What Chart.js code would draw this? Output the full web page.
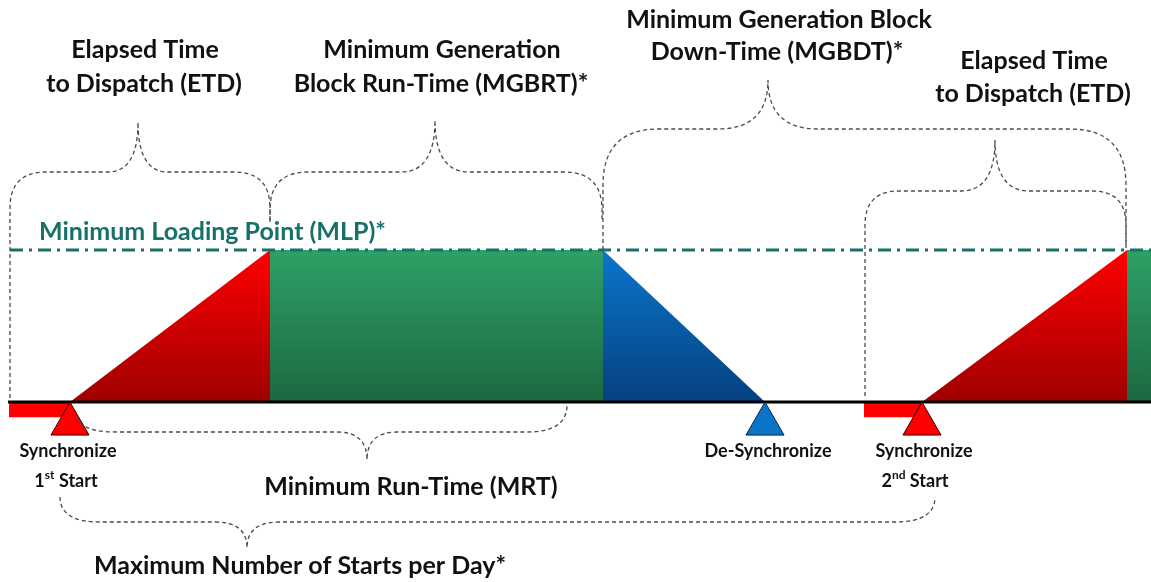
<!DOCTYPE html>
<html>
<head>
<meta charset="utf-8">
<script src="https://cdn.jsdelivr.net/npm/chart.js@4.4.1/dist/chart.umd.min.js"></script>
<style>
html, body { margin: 0; padding: 0; background: #fff; }
#wrap { width: 1151px; height: 582px; position: relative; }
</style>
</head>
<body>
<div id="wrap"><canvas id="myChart"></canvas></div>
<script>
// unit output profile over the day: 0 = offline, 1 = minimum loading point
const phaseNames = ['ramp', 'run', 'down', 'off', 'ramp', 'run'];
const phaseStart = [70, 270, 603, 765, 922, 1127];
const phaseEnd   = [270, 603, 765, 922, 1127, 1151];
const levelStart = [0, 1, 1, 0, 0, 1];
const levelEnd   = [1, 1, 0, 0, 1, 1];

const dispatchTimes = [9, 864];    // dispatch instruction given
const syncTimes = [70, 922];       // 1st / 2nd start
const desyncTimes = [765];
const mlpTimes = [270, 1127];      // MLP reached
const mrtEnd = 567;
const timeRange = [0, 1151];
const mlpLevel = 1;

const FONT = 'Lato, "Open Sans", sans-serif';

function grad(chart, top, bottom) {
  const ys = chart.scales.y;
  if (!chart.chartArea || !ys) return top;
  const y0 = ys.getPixelForValue(1), y1 = ys.getPixelForValue(0);
  if (!isFinite(y0) || !isFinite(y1)) return top;
  const g = chart.ctx.createLinearGradient(0, y0, 0, y1);
  g.addColorStop(0, top);
  g.addColorStop(1, bottom);
  return g;
}
const phaseFill = {
  ramp: c => grad(c.chart, '#ff0000', '#9e0000'),
  run: c => grad(c.chart, '#2ea066', '#1c6840'),
  down: c => grad(c.chart, '#0b76cc', '#05407f'),
  off: 'rgba(0,0,0,0)'
};

const datasets = [];
phaseNames.forEach((p, i) => {
  if (p === 'off') return;
  datasets.push({
    data: [{x: phaseStart[i], y: levelStart[i]}, {x: phaseEnd[i], y: levelEnd[i]}],
    borderWidth: 0, pointRadius: 0, fill: 'origin',
    backgroundColor: phaseFill[p], order: p === 'run' ? 6 : 5
  });
});
// red bars: dispatch -> synchronise
dispatchTimes.forEach((t, i) => {
  datasets.push({
    data: [{x: t, y: -0.1}, {x: syncTimes[i], y: -0.1}],
    borderWidth: 0, pointRadius: 0, fill: {value: 0},
    backgroundColor: '#ff0000', order: 4
  });
});
// baseline
datasets.push({
  data: [{x: 8, y: 0}, {x: timeRange[1], y: 0}],
  borderColor: '#000', borderWidth: 3, pointRadius: 0, fill: false, order: 3
});
// MLP line
datasets.push({
  data: [{x: 10, y: mlpLevel}, {x: timeRange[1], y: mlpLevel}],
  borderColor: '#17706a', borderWidth: 3, borderDash: [13, 6, 3, 6],
  pointRadius: 0, fill: false, order: 2
});
// sync / de-sync markers
datasets.push({
  data: syncTimes.map(t => ({x: t, y: -0.145})),
  showLine: false, pointStyle: 'triangle', pointRadius: 22,
  pointBackgroundColor: '#ff0000', pointBorderColor: '#3a0000', pointBorderWidth: 1, order: 1
});
datasets.push({
  data: desyncTimes.map(t => ({x: t, y: -0.145})),
  showLine: false, pointStyle: 'triangle', pointRadius: 22,
  pointBackgroundColor: '#0a74c8', pointBorderColor: '#0a2540', pointBorderWidth: 1, order: 1
});

function brace(ctx, x1, y1, x2, y2, tx, bar, tip, r, k) {
  const dir = tip < bar ? -1 : 1;
  ctx.beginPath();
  ctx.moveTo(x1, y1);
  const r1 = Math.min(r, Math.abs(y1 - bar));
  ctx.lineTo(x1, bar - dir * r1);
  ctx.quadraticCurveTo(x1, bar, x1 + r, bar);
  ctx.lineTo(tx - k, bar);
  ctx.quadraticCurveTo(tx, bar, tx, tip);
  ctx.quadraticCurveTo(tx, bar, tx + k, bar);
  ctx.lineTo(x2 - r, bar);
  const r2 = Math.min(r, Math.abs(y2 - bar));
  ctx.quadraticCurveTo(x2, bar, x2, bar - dir * r2);
  ctx.lineTo(x2, y2);
  ctx.stroke();
}

function label(ctx, text, cx, cy, size, color) {
  ctx.font = 'bold ' + size + 'px ' + FONT;
  ctx.fillStyle = color || '#111';
  ctx.textAlign = 'center';
  ctx.textBaseline = 'middle';
  ctx.fillText(text, cx, cy);
}

function ordinal(ctx, num, sup, rest, cx, cy, size) {
  ctx.textBaseline = 'middle';
  ctx.textAlign = 'left';
  ctx.fillStyle = '#111';
  const big = 'bold ' + size + 'px ' + FONT, small = 'bold ' + Math.round(size * 0.65) + 'px ' + FONT;
  ctx.font = big; const w1 = ctx.measureText(num).width, w3 = ctx.measureText(rest).width;
  ctx.font = small; const w2 = ctx.measureText(sup).width;
  let x = cx - (w1 + w2 + w3) / 2;
  ctx.font = big; ctx.fillText(num, x, cy); x += w1;
  ctx.font = small; ctx.fillText(sup, x, cy - size * 0.3); x += w2;
  ctx.font = big; ctx.fillText(rest, x, cy);
}

const decor = {
  id: 'decor',
  afterDatasetsDraw(chart) {
    const ctx = chart.ctx, X = v => chart.scales.x.getPixelForValue(v);
    ctx.save();
    ctx.strokeStyle = '#4a4a4a';
    ctx.lineWidth = 1.3;
    ctx.setLineDash([4, 3]);
    brace(ctx, X(dispatchTimes[0]) + 1, 398, X(mlpTimes[0]), 222, 138, 172, 122, 36, 30);
    brace(ctx, X(mlpTimes[0]), 222, X(phaseEnd[1]) - 1, 222, 435, 172, 120, 38, 34);
    brace(ctx, X(phaseEnd[1]), 250, X(mlpTimes[1]) - 1, 250, 768, 129, 80, 56, 50);
    brace(ctx, X(dispatchTimes[1]) + 1, 396, X(mlpTimes[1]) - 1, 246, 995, 191, 140, 34, 34);
    brace(ctx, X(syncTimes[0]) + 8, 416, X(mrtEnd), 405, 367, 432, 460, 40, 30);
    brace(ctx, X(syncTimes[0]) - 10, 497, X(syncTimes[1]) + 13, 497, 247, 522, 548, 40, 32);
    ctx.restore();
  },
  afterDraw(chart) {
    const ctx = chart.ctx;
    ctx.save();
    label(ctx, 'Elapsed Time', 145, 50, 25);
    label(ctx, 'to Dispatch (ETD)', 144, 84, 25);
    label(ctx, 'Minimum Generation', 442, 50, 25);
    label(ctx, 'Block Run-Time (MGBRT)*', 441, 84, 25);
    label(ctx, 'Minimum Generation Block', 779, 20, 25);
    label(ctx, 'Down-Time (MGBDT)*', 777, 52, 25);
    label(ctx, 'Elapsed Time', 1034, 61, 25);
    label(ctx, 'to Dispatch (ETD)', 1033, 94, 25);
    ctx.textAlign = 'left';
    ctx.font = 'bold 25px ' + FONT;
    ctx.fillStyle = '#17706a';
    ctx.textBaseline = 'middle';
    ctx.fillText('Minimum Loading Point (MLP)*', 39, 232);
    label(ctx, 'Synchronize', 68, 451, 18);
    ordinal(ctx, '1', 'st', ' Start', 66, 481, 18);
    label(ctx, 'De-Synchronize', 768, 451, 18);
    label(ctx, 'Synchronize', 924, 451, 18);
    ordinal(ctx, '2', 'nd', ' Start', 915, 481, 18);
    label(ctx, 'Minimum Run-Time (MRT)', 411, 487, 25);
    label(ctx, 'Maximum Number of Starts per Day*', 300, 566, 25);
    ctx.restore();
  }
};

new Chart('myChart', {
  type: 'line',
  data: { datasets: datasets },
  options: {
    responsive: true,
    maintainAspectRatio: false,
    animation: false,
    layout: { padding: 0, autoPadding: false },
    plugins: { legend: { display: false }, tooltip: { enabled: false } },
    scales: {
      x: { type: 'linear', min: timeRange[0], max: timeRange[1], display: false },
      y: { min: -1.184, max: 2.645, display: false }
    }
  },
  plugins: [decor]
});
</script>
</body>
</html>
